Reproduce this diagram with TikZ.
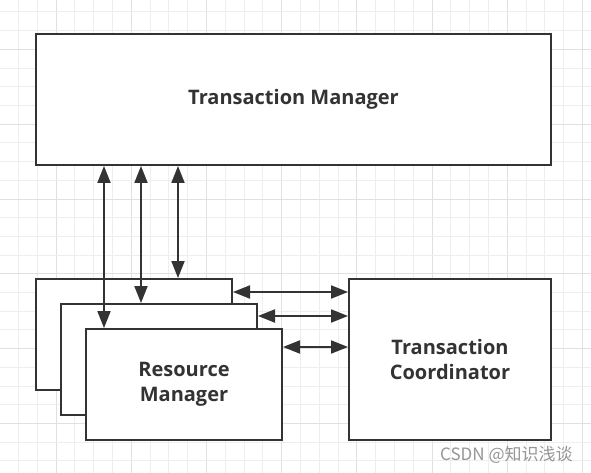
\documentclass[tikz,border=0pt]{standalone}
\usepackage{fontspec}
\setmainfont{Open Sans}
\newfontfamily\cjkfont{Noto Sans CJK SC}
\usetikzlibrary{arrows.meta}
\definecolor{ink}{RGB}{51,51,51}
\definecolor{gridminor}{RGB}{238,238,238}
\definecolor{gridmajor}{RGB}{224,224,224}
\definecolor{wm}{RGB}{150,150,150}
\tikzset{
  box/.style={draw=ink, line width=2pt, fill=white, rectangle, inner sep=0pt,
    font=\fontsize{20}{25}\selectfont\bfseries, text=ink, align=center},
  link/.style={draw=ink, line width=2pt, {Triangle[length=17pt,width=13pt]}-{Triangle[length=17pt,width=13pt]}},
}
\begin{document}
\begin{tikzpicture}[x=1pt,y=-1pt]
\useasboundingbox (0,0) rectangle (591,473);
\fill[white] (0,0) rectangle (591,473);
% grid
\foreach \k in {0,...,30} {
  \pgfmathsetmacro{\xx}{18.5+18.8*\k}
  \pgfmathtruncatemacro{\mm}{mod(\k+2,4)}
  \ifnum\mm=0 \draw[gridmajor, line width=1pt] (\xx,0) -- (\xx,473);
  \else \draw[gridminor, line width=1pt] (\xx,0) -- (\xx,473); \fi
}
\foreach \k in {0,...,25} {
  \pgfmathsetmacro{\yy}{12+18.7*\k}
  \pgfmathtruncatemacro{\mm}{mod(\k+2,4)}
  \ifnum\mm=0 \draw[gridmajor, line width=1pt] (0,\yy) -- (591,\yy);
  \else \draw[gridminor, line width=1pt] (0,\yy) -- (591,\yy); \fi
}
% boxes
\node[box, minimum width=515pt, minimum height=131pt] (tm) at (293.5,99.5) {Transaction Manager};
\node[box, minimum width=196pt, minimum height=111pt] (rm1) at (134,334.5) {};
\node[box, minimum width=196pt, minimum height=111pt] (rm2) at (159,359.5) {};
\node[box, minimum width=196pt, minimum height=111pt] (rm3) at (184,384.5) {Resource\\Manager};
\node[box, minimum width=202pt, minimum height=161pt] (tc) at (450,359.5) {Transaction\\Coordinator};
% connector positions
\coordinate (v1) at (104,0);
\coordinate (v2) at (141,0);
\coordinate (v3) at (178,0);
\coordinate (h1) at (0,292);
\coordinate (h2) at (0,316);
\coordinate (h3) at (0,347);
% vertical links
\draw[link] (v1 |- tm.south) -- (v1 |- rm3.north);
\draw[link] (v2 |- tm.south) -- (v2 |- rm2.north);
\draw[link] (v3 |- tm.south) -- (v3 |- rm1.north);
% horizontal links
\draw[link] (rm1.east |- h1) -- (tc.west |- h1);
\draw[link] (rm2.east |- h2) -- (tc.west |- h2);
\draw[link] (rm3.east |- h3) -- (tc.west |- h3);
% watermark
\node[anchor=west, text=wm, inner sep=0pt, font=\cjkfont\fontsize{17}{20}\selectfont] (wmk) at (440,455) {CSDN @知识浅谈};
\end{tikzpicture}
\end{document}
